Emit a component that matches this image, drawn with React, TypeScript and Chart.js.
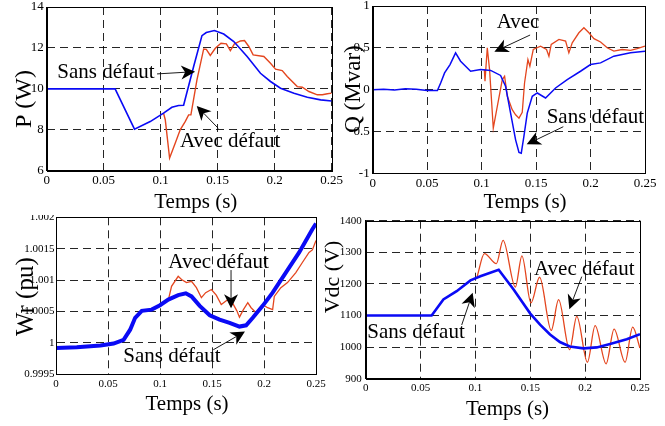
import React, { useEffect, useRef } from 'react';
import { Chart, registerables } from 'chart.js';

Chart.register(...registerables);

// ---------------- DATA ----------------
const timeTicks = [0, 0.05, 0.1, 0.15, 0.2, 0.25];
const timeTickLabels = ['0', '0.05', '0.1', '0.15', '0.2', '0.25'];

// P (W)
const pTicks = [6, 8, 10, 12, 14];
const pTickLabels = ['6', '8', '10', '12', '14'];
const pSansT = [0, 0.06, 0.077, 0.0908, 0.1025, 0.1098, 0.1157, 0.1201, 0.1289, 0.1362, 0.14, 0.1471, 0.1553, 0.1641, 0.1758, 0.1875, 0.1963, 0.2051, 0.2169, 0.2286, 0.2403, 0.25];
const pSansV = [10, 10, 8.03, 8.4, 8.81, 9.1, 9.19, 9.2, 11.09, 12.6, 12.75, 12.85, 12.68, 12.31, 11.58, 10.76, 10.36, 10.03, 9.79, 9.59, 9.46, 9.41];
const pAvecT = [0.1025, 0.104, 0.1078, 0.1128, 0.1171, 0.1216, 0.1245, 0.1265, 0.1318, 0.1377, 0.14, 0.1435, 0.1479, 0.1529, 0.1576, 0.1611, 0.1647, 0.1699, 0.1735, 0.1773, 0.1811, 0.1905, 0.1963, 0.2007, 0.2066, 0.211, 0.2198, 0.2242, 0.23, 0.2374, 0.2418, 0.2462, 0.25];
const pAvecV = [8.81, 8.49, 6.62, 7.35, 8.0, 8.41, 8.73, 8.73, 10.44, 11.95, 11.93, 11.63, 11.98, 12.23, 12.2, 11.87, 12.2, 12.34, 12.36, 12.07, 11.66, 11.58, 11.25, 10.96, 10.89, 10.6, 10.11, 10.08, 9.87, 9.71, 9.71, 9.76, 9.79];

// Q (Mvar)
const qTicks = [-1, -0.5, 0, 0.5, 1];
const qTickLabels = ['-1', '-0.5', '0', '0.5', '1'];
const qSansT = [0, 0.01, 0.02, 0.03, 0.04, 0.05, 0.0594, 0.0624, 0.066, 0.071, 0.0761, 0.0807, 0.0899, 0.0991, 0.1083, 0.1174, 0.122, 0.1266, 0.1312, 0.1343, 0.1364, 0.1388, 0.1419, 0.1465, 0.1511, 0.1587, 0.1679, 0.1786, 0.1908, 0.2, 0.2092, 0.2214, 0.2367, 0.25];
const qSansV = [0, 0.005, -0.005, 0.01, 0.005, -0.01, -0.01, 0.08, 0.2, 0.3, 0.44, 0.34, 0.22, 0.24, 0.23, 0.17, 0.04, -0.28, -0.6, -0.75, -0.76, -0.56, -0.28, -0.08, -0.04, -0.1, 0.02, 0.12, 0.22, 0.3, 0.32, 0.4, 0.44, 0.46];
const qAvecT = [0.1025, 0.1031, 0.1052, 0.1073, 0.1107, 0.1144, 0.119, 0.1211, 0.1236, 0.1281, 0.1312, 0.1343, 0.1373, 0.1394, 0.1425, 0.1443, 0.1474, 0.1541, 0.1596, 0.1618, 0.1639, 0.171, 0.1771, 0.1801, 0.1832, 0.1893, 0.1939, 0.1985, 0.2031, 0.2092, 0.2153, 0.2214, 0.229, 0.2367, 0.2428, 0.25];
const qAvecV = [0.24, 0.1, 0.5, 0.24, -0.46, -0.2, 0.12, 0.16, -0.08, -0.24, -0.3, -0.34, -0.27, 0.08, 0.36, 0.28, 0.48, 0.52, 0.48, 0.4, 0.54, 0.6, 0.58, 0.44, 0.56, 0.68, 0.74, 0.68, 0.61, 0.57, 0.5, 0.46, 0.48, 0.47, 0.49, 0.52];

// Wr (pu)
const wTicks = [0.9995, 1, 1.0005, 1.001, 1.0015, 1.002];
const wTickLabels = ['0.9995', '1', '1.0005', '1.001', '1.0015', '1.002'];
const wSansT = [0, 0.02, 0.0427, 0.0554, 0.065, 0.0713, 0.0761, 0.0825, 0.092, 0.1, 0.108, 0.1175, 0.1248, 0.1303, 0.1382, 0.1478, 0.1573, 0.1669, 0.1764, 0.1828, 0.1892, 0.1987, 0.2083, 0.221, 0.2338, 0.2465, 0.25];
const wSansV = [0.99992, 0.99993, 0.99996, 0.99999, 1.00005, 1.00021, 1.0004, 1.00051, 1.00053, 1.0006, 1.00069, 1.00076, 1.00079, 1.00074, 1.00059, 1.00044, 1.00037, 1.00032, 1.00026, 1.00028, 1.0004, 1.00059, 1.0008, 1.00112, 1.00144, 1.00181, 1.0019];
const wAvecT = [0.106, 0.108, 0.1111, 0.1175, 0.1207, 0.1255, 0.1303, 0.135, 0.1398, 0.1439, 0.1494, 0.1541, 0.1589, 0.1653, 0.17, 0.1739, 0.1764, 0.1802, 0.1844, 0.1876, 0.1924, 0.1987, 0.2035, 0.2083, 0.2099, 0.2162, 0.2226, 0.2306, 0.2369, 0.2433, 0.2465, 0.25];
const wAvecV = [1.00068, 1.00068, 1.0009, 1.00106, 1.00101, 1.00096, 1.00098, 1.00088, 1.00072, 1.0008, 1.00085, 1.00076, 1.00061, 1.00069, 1.00063, 1.00051, 1.00041, 1.00053, 1.00064, 1.00056, 1.00048, 1.00061, 1.00056, 1.00053, 1.00074, 1.00088, 1.00096, 1.00112, 1.00128, 1.00144, 1.00148, 1.00163];

// Vdc (V)
const vTicks = [900, 1000, 1100, 1200, 1300, 1400];
const vTickLabels = ['900', '1000', '1100', '1200', '1300', '1400'];
const vSansT = [0, 0.0601, 0.0708, 0.0829, 0.0955, 0.1045, 0.1212, 0.1348, 0.15, 0.1589, 0.168, 0.177, 0.186, 0.1985, 0.2106, 0.2227, 0.2379, 0.25];
const vSansV = [1100, 1100, 1151, 1177, 1211, 1224, 1245, 1182, 1106, 1071, 1040, 1016, 1002, 996, 999, 1010, 1025, 1041];
const vAvecT = [0.1015, 0.1082, 0.1191, 0.1252, 0.1364, 0.1424, 0.1506, 0.1585, 0.1691, 0.1758, 0.1858, 0.1924, 0.2021, 0.2091, 0.2191, 0.2264, 0.2364, 0.2433, 0.25];
const vAvecV = [1222, 1296, 1264, 1338, 1190, 1289, 1140, 1221, 1053, 1150, 992, 1097, 952, 1068, 947, 1057, 952, 1063, 997];

// Annotations: text anchor (t, value) and arrow from (t0, v0) to tip (t1, v1)
const pNotes = [
  { text: 'Sans défaut', tx: 0.0093, ty: 10.53, x0: 0.0968, y0: 10.73, x1: 0.1302, y1: 10.84 },
  { text: 'Avec défaut', tx: 0.1169, ty: 7.16, x0: 0.1505, y0: 8.07, x1: 0.1316, y1: 9.16 },
];
const qNotes = [
  { text: 'Avec', tx: 0.1138, ty: 0.733, x0: 0.1445, y0: 0.653, x1: 0.1117, y1: 0.454 },
  { text: 'Sans défaut', tx: 0.1597, ty: -0.402, x0: 0.175, y0: -0.443, x1: 0.1414, y1: -0.654 },
];
const wNotes = [
  { text: 'Avec défaut', tx: 0.108, ty: 1.00119, x0: 0.1683, y0: 1.00116, x1: 0.1683, y1: 1.00055 },
  { text: 'Sans défaut', tx: 0.0647, ty: 0.9997, x0: 0.1512, y0: 0.99989, x1: 0.1817, y1: 1.00018 },
];
const vNotes = [
  { text: 'Avec défaut', tx: 0.1534, ty: 1228, x0: 0.1969, y0: 1223, x1: 0.1856, y1: 1120 },
  { text: 'Sans défaut', tx: 0.0015, ty: 1028, x0: 0.0875, y0: 1070, x1: 0.0975, y1: 1172 },
];

// ---------------- STYLE ----------------
const FONT = '"Liberation Serif", "Times New Roman", serif';
const BLUE = '#0a0af5';
const RED = '#e4461f';
const GRID = 'rgba(0,0,0,0.85)';

Chart.defaults.font.family = FONT;
Chart.defaults.color = '#000';

const pts = (t: number[], v: number[]) => t.map((x, i) => ({ x, y: v[i] }));

function drawArrow(ctx: CanvasRenderingContext2D, x0: number, y0: number, x1: number, y1: number) {
  const a = Math.atan2(y1 - y0, x1 - x0);
  const c = Math.cos(a), s = Math.sin(a);
  const L = 14, W = 7, N = 4;
  ctx.beginPath();
  ctx.moveTo(x0, y0);
  ctx.lineTo(x1 - (L - N) * c, y1 - (L - N) * s);
  ctx.lineWidth = 0.9;
  ctx.strokeStyle = '#000';
  ctx.stroke();
  ctx.beginPath();
  ctx.moveTo(x1, y1);
  ctx.lineTo(x1 - L * c + W * s, y1 - L * s - W * c);
  ctx.lineTo(x1 - (L - N) * c, y1 - (L - N) * s);
  ctx.lineTo(x1 - L * c - W * s, y1 - L * s + W * c);
  ctx.closePath();
  ctx.fillStyle = '#000';
  ctx.fill();
}

const decorPlugin = {
  id: 'decor',
  afterDraw(chart: any, _args: any, opts: any) {
    const ctx: CanvasRenderingContext2D = chart.ctx;
    const { left, top, right, bottom } = chart.chartArea;
    ctx.save();
    ctx.setLineDash([]);
    ctx.strokeStyle = '#000';
    ctx.lineWidth = 1;
    ctx.strokeRect(Math.round(left) + 0.5, Math.round(top) + 0.5, Math.round(right) - Math.round(left), Math.round(bottom) - Math.round(top));

    const xs = chart.scales.x, ys = chart.scales.y;
    for (const n of opts.notes) {
      ctx.font = `21px ${FONT}`;
      ctx.fillStyle = '#000';
      ctx.textAlign = 'left';
      ctx.textBaseline = 'alphabetic';
      ctx.fillText(n.text, xs.getPixelForValue(n.tx), ys.getPixelForValue(n.ty));
      drawArrow(ctx, xs.getPixelForValue(n.x0), ys.getPixelForValue(n.y0), xs.getPixelForValue(n.x1), ys.getPixelForValue(n.y1));
    }

    const yt = opts.yTitle;
    ctx.save();
    ctx.translate(yt.x, yt.y);
    ctx.rotate(-Math.PI / 2);
    ctx.font = `${yt.size}px ${FONT}`;
    ctx.fillStyle = '#000';
    ctx.textAlign = 'center';
    ctx.textBaseline = 'alphabetic';
    ctx.fillText(yt.text, 0, 0);
    ctx.restore();

    const xt = opts.xTitle;
    ctx.font = `${xt.size}px ${FONT}`;
    ctx.fillStyle = '#000';
    ctx.textAlign = 'center';
    ctx.textBaseline = 'alphabetic';
    ctx.fillText(xt.text, xt.x, xt.y);
    ctx.restore();
  },
};

type Panel = {
  key: string;
  left: number; top: number; w: number; h: number;
  padTop: number; padRight: number; yAxisW: number; xAxisH: number;
  tickSize: number; xTickPad: number; yTickPad: number;
  yMin: number; yMax: number; yTicks: number[]; yTickLabels: string[];
  sansT: number[]; sansV: number[]; avecT: number[]; avecV: number[];
  blueWidth: number; redWidth: number; blueMono: boolean; redMono: boolean;
  notes: any[];
  yTitle: { text: string; x: number; y: number; size: number };
  xTitle: { text: string; x: number; y: number; size: number };
};

const panels: Panel[] = [
  {
    key: 'p', left: 0, top: 0, w: 345, h: 215,
    padTop: 7, padRight: 13.3, yAxisW: 46.7, xAxisH: 44.3,
    tickSize: 13, xTickPad: 2, yTickPad: 3,
    yMin: 6, yMax: 14, yTicks: pTicks, yTickLabels: pTickLabels,
    sansT: pSansT, sansV: pSansV, avecT: pAvecT, avecV: pAvecV,
    blueWidth: 1.6, redWidth: 1.4, blueMono: false, redMono: false,
    notes: pNotes,
    yTitle: { text: 'P (W)', x: 30.7, y: 99, size: 24 },
    xTitle: { text: 'Temps (s)', x: 195.8, y: 208, size: 21 },
  },
  {
    key: 'q', left: 335, top: 0, w: 330, h: 215,
    padTop: 6, padRight: 20, yAxisW: 37.7, xAxisH: 41.7,
    tickSize: 13, xTickPad: 2, yTickPad: 3,
    yMin: -1, yMax: 1, yTicks: qTicks, yTickLabels: qTickLabels,
    sansT: qSansT, sansV: qSansV, avecT: qAvecT, avecV: qAvecV,
    blueWidth: 1.5, redWidth: 1.3, blueMono: false, redMono: false,
    notes: qNotes,
    yTitle: { text: 'Q (Mvar)', x: 25, y: 89, size: 23 },
    xTitle: { text: 'Temps (s)', x: 190, y: 208, size: 21 },
  },
  {
    key: 'w', left: 0, top: 215, w: 330, h: 211,
    padTop: 2.3, padRight: 14, yAxisW: 56, xAxisH: 51.7,
    tickSize: 11, xTickPad: 3, yTickPad: 1.5,
    yMin: 0.9995, yMax: 1.002, yTicks: wTicks, yTickLabels: wTickLabels,
    sansT: wSansT, sansV: wSansV, avecT: wAvecT, avecV: wAvecV,
    blueWidth: 4, redWidth: 1.3, blueMono: false, redMono: false,
    notes: wNotes,
    yTitle: { text: 'Wr (pu)', x: 33, y: 81.7, size: 25 },
    xTitle: { text: 'Temps (s)', x: 187, y: 195, size: 21 },
  },
  {
    key: 'v', left: 318, top: 215, w: 347, h: 211,
    padTop: 5.7, padRight: 25, yAxisW: 47.7, xAxisH: 47.3,
    tickSize: 11, xTickPad: 3, yTickPad: 4,
    yMin: 900, yMax: 1400, yTicks: vTicks, yTickLabels: vTickLabels,
    sansT: vSansT, sansV: vSansV, avecT: vAvecT, avecV: vAvecV,
    blueWidth: 2.6, redWidth: 1.3, blueMono: false, redMono: true,
    notes: vNotes,
    yTitle: { text: 'Vdc (V)', x: 21, y: 62, size: 22 },
    xTitle: { text: 'Temps (s)', x: 189.5, y: 199.5, size: 21 },
  },
];

const zeroPad = (sc: any) => {
  sc.paddingTop = 0; sc.paddingBottom = 0; sc.paddingLeft = 0; sc.paddingRight = 0;
};

function buildConfig(s: Panel): any {
  return {
    type: 'line',
    data: {
      datasets: [
        {
          label: 'Sans défaut', data: pts(s.sansT, s.sansV), borderColor: BLUE, borderWidth: s.blueWidth,
          pointRadius: 0, tension: 0, cubicInterpolationMode: s.blueMono ? 'monotone' : 'default', fill: false,
        },
        {
          label: 'Avec défaut', data: pts(s.avecT, s.avecV), borderColor: RED, borderWidth: s.redWidth,
          pointRadius: 0, tension: 0, cubicInterpolationMode: s.redMono ? 'monotone' : 'default', fill: false,
        },
      ],
    },
    options: {
      animation: false,
      responsive: false,
      maintainAspectRatio: false,
      events: [],
      layout: { padding: { left: 0, top: s.padTop, right: s.padRight, bottom: 0 } },
      plugins: {
        legend: { display: false },
        tooltip: { enabled: false },
        decor: { notes: s.notes, yTitle: s.yTitle, xTitle: s.xTitle },
      },
      scales: {
        x: {
          type: 'linear', min: 0, max: 0.25,
          afterBuildTicks: (sc: any) => { sc.ticks = timeTicks.map((value) => ({ value })); },
          afterFit: (sc: any) => { sc.height = s.xAxisH; zeroPad(sc); },
          ticks: {
            callback: (_v: any, i: number) => timeTickLabels[i],
            autoSkip: false, maxRotation: 0, minRotation: 0,
            padding: s.xTickPad, font: { family: FONT, size: s.tickSize }, color: '#000',
          },
          grid: { color: GRID, lineWidth: 1, drawTicks: false },
          border: { display: true, color: '#000', width: 1, dash: [8, 5] },
        },
        y: {
          type: 'linear', min: s.yMin, max: s.yMax,
          afterBuildTicks: (sc: any) => { sc.ticks = s.yTicks.map((value) => ({ value })); },
          afterFit: (sc: any) => { sc.width = s.yAxisW; zeroPad(sc); },
          ticks: {
            callback: (_v: any, i: number) => s.yTickLabels[i],
            autoSkip: false,
            padding: s.yTickPad, font: { family: FONT, size: s.tickSize }, color: '#000',
          },
          grid: { color: GRID, lineWidth: 1, drawTicks: false },
          border: { display: true, color: '#000', width: 1, dash: [8, 5] },
        },
      },
    },
    plugins: [decorPlugin],
  };
}

function PanelChart({ spec }: { spec: Panel }) {
  const ref = useRef<HTMLCanvasElement>(null);
  useEffect(() => {
    const chart = new Chart(ref.current as HTMLCanvasElement, buildConfig(spec));
    return () => chart.destroy();
  }, [spec]);
  return (
    <canvas
      ref={ref}
      width={spec.w}
      height={spec.h}
      style={{ position: 'absolute', left: spec.left, top: spec.top, width: spec.w, height: spec.h }}
    />
  );
}

export default function App() {
  return (
    <div style={{ position: 'absolute', left: 0, top: 0, width: 665, height: 426, background: '#fff', overflow: 'hidden' }}>
      {panels.map((p) => (
        <PanelChart key={p.key} spec={p} />
      ))}
    </div>
  );
}
